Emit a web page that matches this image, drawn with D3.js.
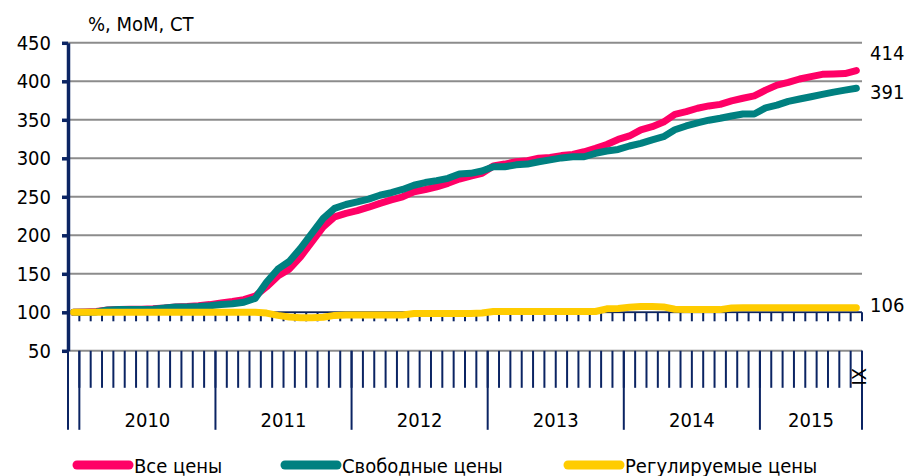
<!DOCTYPE html>
<html>
<head>
<meta charset="utf-8">
<script src="https://cdn.jsdelivr.net/npm/d3@7"></script>
<style>
body { margin: 0; background: #fff; }
svg text { font-family: "DejaVu Sans Condensed", "DejaVu Sans", sans-serif; font-stretch: condensed; fill: #000; }
</style>
</head>
<body>
<svg></svg>
<script>
// year groups on the category axis (first group is Dec 2009, the base month)
const years = ["", "2010", "2011", "2012", "2013", "2014", "2015"];
const monthsInYear = [1, 12, 12, 12, 12, 12, 9];
const lastMonthLabel = "IX";

const yTicks = [50, 100, 150, 200, 250, 300, 350, 400, 450];
const seriesNames = ["Все цены", "Свободные цены", "Регулируемые цены"];

// Dec 2009 = 100, monthly to Sep 2015
const allPrices = [
	100, 100.5, 101, 103, 103.5, 104, 104, 104.5, 105.5, 107, 107.5, 108.5, 110,
	112, 114, 116.5, 121, 133, 147, 156, 172, 191.5, 211, 224, 228.5,
	232, 236.5, 241.5, 246, 250, 256.5, 259.5, 263, 267.5, 273, 277, 280.5,
	290, 292.5, 295.5, 297, 300, 301, 303.5, 305, 308.5, 313, 318, 324.5,
	329, 337, 341, 347, 357, 360.5, 365, 368, 370, 374.5, 378, 381,
	388.5, 395, 398.5, 403, 406, 409, 409.5, 410, 414
];
const freePrices = [
	100, 100, 100.5, 103, 103.5, 103.5, 103.5, 104, 105.5, 107, 107, 107.5, 108.5,
	110, 111, 113, 118, 139, 156, 166, 183, 202.5, 222, 235, 240,
	243.5, 247, 252, 255.5, 259.5, 265, 268.5, 271, 274, 279.5, 280.5, 283.5,
	289, 289, 291.5, 292.5, 295.5, 298, 300.5, 302, 302, 306.5, 309.5, 311.5,
	316, 319.5, 324, 328, 337, 342, 346, 349.5, 352, 355, 357.5, 357.5,
	365.5, 369, 374, 377, 380, 383, 386, 388.5, 391
];
const regulatedPrices = [
	100, 100, 100, 100, 100, 100, 100, 100, 100, 100, 100, 100, 100,
	100, 100, 100, 100, 99, 96, 94, 93, 93, 93.5, 96, 96.5,
	96.5, 96.5, 96.5, 96.5, 96.5, 98.5, 98.5, 98.5, 98.5, 98.5, 98.5, 99,
	101, 101, 101, 101, 101, 101, 101, 101, 101, 101, 104.5, 105,
	106.5, 107.5, 107.5, 107, 104, 103.5, 103.5, 103.5, 103.5, 105.5, 106, 106,
	106, 106, 106, 106, 106, 106, 106, 106, 106
];

document.addEventListener("DOMContentLoaded", function() {
	drawChart([allPrices, freePrices, regulatedPrices]);
});

function drawChart(series) {
var svgWidth = 910, svgHeight = 476;
var navy = "#0b2463", grid = "#8c8c8c";
var colors = ["#ff0066", "#008080", "#ffcc00"];
var fontSize = 20;

var svg = d3.select("svg")
	.attr("width", svgWidth)
	.attr("height", svgHeight);

var n = series[0].length;
var x = d3.scaleBand()
	.domain(d3.range(n))
	.range([68, 862]);
var y = d3.scaleLinear()
	.domain([50, 450])
	.range([350.8, 42.8]);

var left = x.range()[0], right = x.range()[1];
function edge(i) { return i < n ? x(i) : right; }

// horizontal gridlines
svg.append("g")
	.selectAll("line")
	.data(yTicks)
	.join("line")
	.attr("x1", left).attr("x2", right)
	.attr("y1", function(d) { return y(d); })
	.attr("y2", function(d) { return y(d); })
	.attr("stroke", grid)
	.attr("stroke-width", 2);

// category axis crossing at 100
var axisY = y(100);
svg.append("line")
	.attr("x1", left).attr("x2", right)
	.attr("y1", axisY).attr("y2", axisY)
	.attr("stroke", navy).attr("stroke-width", 1.5);
svg.append("g")
	.selectAll("line")
	.data(d3.range(1, n + 1))
	.join("line")
	.attr("x1", edge).attr("x2", edge)
	.attr("y1", axisY).attr("y2", axisY + 9)
	.attr("stroke", navy).attr("stroke-width", 2);

// month ticks under the plot
var base = y(50);
svg.append("g")
	.selectAll("line")
	.data(d3.range(1, n + 1))
	.join("line")
	.attr("x1", edge).attr("x2", edge)
	.attr("y1", base).attr("y2", base + 37)
	.attr("stroke", navy).attr("stroke-width", 2);

// year groups
var starts = [0];
monthsInYear.forEach(function(m, i) { starts.push(starts[i] + m); });
svg.append("g")
	.selectAll("line")
	.data(starts)
	.join("line")
	.attr("x1", edge).attr("x2", edge)
	.attr("y1", base).attr("y2", base + 79)
	.attr("stroke", navy).attr("stroke-width", 2);
svg.append("g")
	.selectAll("text")
	.data(years)
	.join("text")
	.attr("x", function(d, i) { return (edge(starts[i]) + edge(starts[i + 1])) / 2; })
	.attr("y", base + 76)
	.attr("text-anchor", "middle")
	.attr("font-size", fontSize)
	.text(function(d) { return d; });

// last month label
var lx = x(n - 1) + x.bandwidth() / 2 + 2;
svg.append("text")
	.attr("transform", "translate(" + lx + "," + (base + 26) + ") rotate(-90)")
	.attr("text-anchor", "middle")
	.attr("dy", "0.36em")
	.attr("font-size", fontSize)
	.text(lastMonthLabel);

// value axis
var yAxis = svg.append("g")
	.attr("transform", "translate(" + left + ",0)")
	.call(d3.axisLeft(y).tickValues(yTicks).tickSize(6).tickSizeOuter(0).tickPadding(11));
yAxis.attr("font-family", null).attr("font-size", fontSize);
yAxis.select(".domain").attr("stroke", navy).attr("stroke-width", 3.5);
yAxis.selectAll(".tick line").attr("stroke", navy).attr("stroke-width", 3.5);
yAxis.selectAll(".tick text").attr("fill", "#000");

svg.append("text")
	.attr("x", 88).attr("y", 31)
	.attr("font-size", fontSize)
	.text("%, МоМ, СТ");

// lines
var line = d3.line()
	.x(function(d, i) { return x(i) + x.bandwidth() / 2; })
	.y(function(d) { return y(d); });

svg.append("g")
	.selectAll("path")
	.data(series)
	.join("path")
	.attr("fill", "none")
	.attr("stroke", function(d, i) { return colors[i]; })
	.attr("stroke-width", 7)
	.attr("stroke-linejoin", "round")
	.attr("stroke-linecap", "round")
	.attr("d", line);

// end values
var labelDy = [-11, 11, 4];
svg.append("g")
	.selectAll("text")
	.data(series)
	.join("text")
	.attr("x", right + 8)
	.attr("y", function(d, i) { return y(d[n - 1]) + labelDy[i]; })
	.attr("font-size", fontSize)
	.text(function(d) { return d3.format("d")(d[n - 1]); });

// legend
var legendX = [77, 285, 568];
var legend = svg.append("g")
	.selectAll("g")
	.data(seriesNames)
	.join("g")
	.attr("transform", function(d, i) { return "translate(" + legendX[i] + ",465)"; });
legend.append("line")
	.attr("x1", 0).attr("x2", 52)
	.attr("stroke", function(d, i) { return colors[i]; })
	.attr("stroke-width", 9)
	.attr("stroke-linecap", "round");
legend.append("text")
	.attr("x", 57).attr("y", 7.5)
	.attr("font-size", fontSize)
	.text(function(d) { return d; });
}
</script>
</body>
</html>
